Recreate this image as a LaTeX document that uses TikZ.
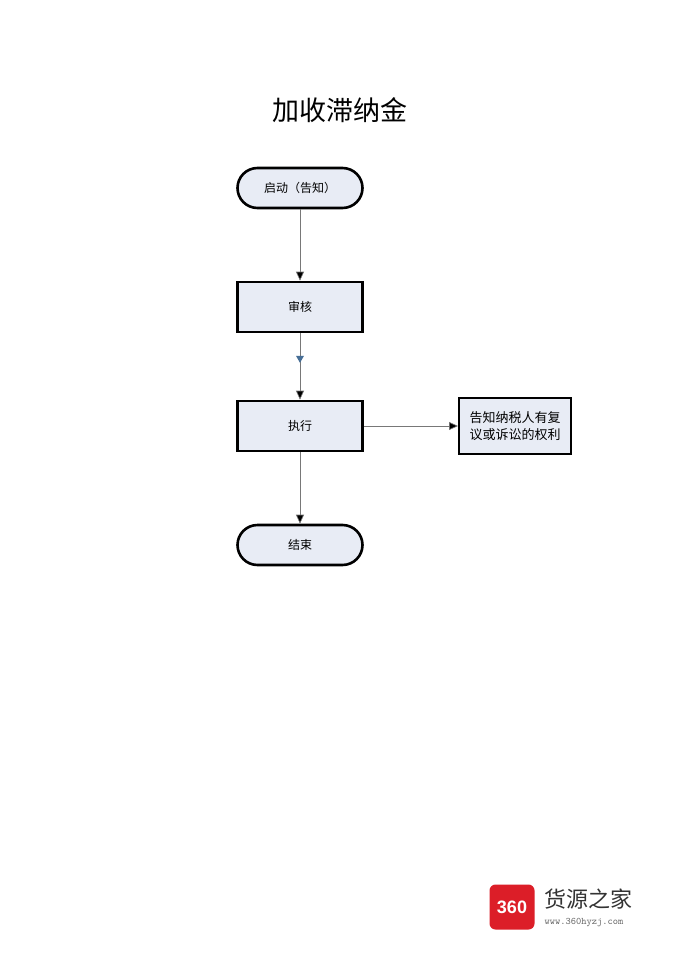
\documentclass[tikz,border=0pt]{standalone}
\usepackage{fontspec}
\setmainfont{Liberation Serif}
\setsansfont{Liberation Sans}
\newfontfamily\cjk{Noto Sans CJK SC}
\usetikzlibrary{positioning,arrows.meta,decorations.markings}
\definecolor{boxfill}{RGB}{232,236,245}
\definecolor{linegray}{RGB}{120,120,120}
\definecolor{tipblue}{RGB}{70,110,150}
\definecolor{logored}{RGB}{220,30,40}
\tikzset{
	terminal/.style={shape=rectangle,rounded corners=20pt,draw=black,line width=2.6pt,fill=boxfill,minimum width=125pt,minimum height=40pt,font=\cjk\fontsize{12}{14}\selectfont},
	stepbox/.style={shape=rectangle,draw=black,line width=2.6pt,fill=boxfill,minimum width=125pt,minimum height=50pt,font=\cjk\fontsize{12}{14}\selectfont},
	notebox/.style={shape=rectangle,draw=black,line width=2pt,fill=boxfill,minimum width=112pt,minimum height=56pt,inner sep=1pt,align=center,font=\cjk\fontsize{13}{17}\selectfont},
	flow/.style={draw=linegray,line width=0.6pt,-{Triangle[length=9pt,width=8pt,fill=black]}},
}
\begin{document}
\begin{tikzpicture}[x=1pt,y=-1pt]
	\useasboundingbox[fill=white] (0,0) rectangle (682,963);
	\node[font=\cjk\fontsize{27}{30}\selectfont] (title) at (340,110) {加收滞纳金};

	\node[terminal] (start) at (300,188) {启动（告知）};
	\node[stepbox] (check) at (300,307) {审核};
	\node[stepbox] (exec) at (300,426) {执行};
	\node[notebox] (note) at (515,426) {告知纳税人有复\\议或诉讼的权利};
	\node[terminal] (stop) at (300,545) {结束};

	\path[flow] (start) edge (check);
	\draw[flow,postaction={decorate},decoration={markings,mark=at position 0.4 with {\fill[tipblue] (3pt,0) -- (-4pt,4pt) -- (-4pt,-4pt) -- cycle;}}] (check) -- (exec);
	\path[flow] (exec) edge (note);
	\path[flow] (exec) edge (stop);

	% watermark
	\node[shape=rectangle,rounded corners=6pt,fill=logored,minimum width=45pt,minimum height=45pt,text=white,font=\sffamily\bfseries\fontsize{18}{18}\selectfont] (logo) at (512,907) {360};
	\node[anchor=west,font=\cjk\fontsize{22}{24}\selectfont,text=black!80] (brand) at (541,899) {货源之家};
	\node[anchor=west,font=\ttfamily\fontsize{10}{12}\selectfont,text=black!60] (url) at (541,923) {www.360hyzj.com};
\end{tikzpicture}
\end{document}
